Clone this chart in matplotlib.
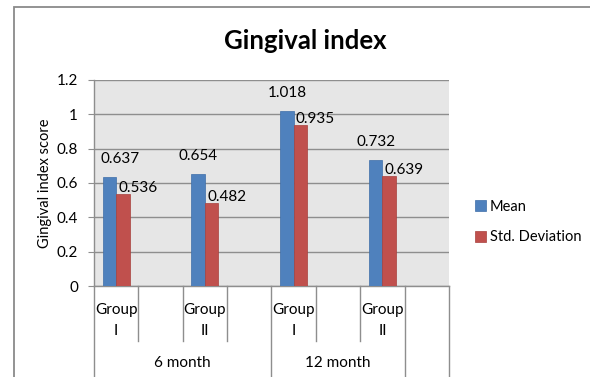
import matplotlib.pyplot as plt
from matplotlib.patches import Patch, Rectangle
from matplotlib.transforms import blended_transform_factory

# categories along the x axis (blank slots are empty categories)
categories = ["Group\nI", "", "Group\nII", "", "Group\nI", "", "Group\nII", ""]
mean_vals = [0.637, None, 0.654, None, 1.018, None, 0.732, None]
std_vals = [0.536, None, 0.482, None, 0.935, None, 0.639, None]

# outer category level and how many inner categories each spans
periods = ["6 month", "12 month", ""]
period_sizes = [4, 3, 1]

BLUE = "#4F81BD"
RED = "#C0504D"
GRID = "#8E8E8E"
FONT = "Lato"
FS = 11

W, H = 590, 377
fig = plt.figure(figsize=(W / 100, H / 100), dpi=100)
fig.patch.set_facecolor("white")

# chart frame (runs past the right and bottom edges)
fig.patches.append(Rectangle((14 / W, -0.05), 1.0, 1 - 7 / H + 0.05,
                             transform=fig.transFigure, fill=False,
                             edgecolor="#8A8A8A", linewidth=1.3))

ax = fig.add_axes([94 / W, 1 - 286 / H, (449 - 94) / W, 206 / H])
ax.set_facecolor("#E6E6E6")

n = len(categories)
x = list(range(n))
bw = 0.305
xs_mean = [i - bw / 2 for i, v in zip(x, mean_vals) if v is not None]
ys_mean = [v for v in mean_vals if v is not None]
xs_std = [i + bw / 2 for i, v in zip(x, std_vals) if v is not None]
ys_std = [v for v in std_vals if v is not None]

ax.bar(xs_mean, ys_mean, width=bw, color=BLUE, edgecolor="#3E6EA8", linewidth=0.5, zorder=3)
ax.bar(xs_std, ys_std, width=bw, color=RED, edgecolor="#A8403D", linewidth=0.5, zorder=3)

# value labels
mean_dx = [11, 0, 0, 0]
for xi, v, dx in zip(xs_mean, ys_mean, mean_dx):
    ax.annotate(f"{v:.3f}", (xi, v), xytext=(dx, 11), textcoords="offset pixels",
                ha="center", va="bottom", fontsize=FS, family=FONT, zorder=4)
for xi, v in zip(xs_std, ys_std):
    ax.annotate(f"{v:.3f}", (xi, v), xytext=(15, -1), textcoords="offset pixels",
                ha="center", va="bottom", fontsize=FS, family=FONT, zorder=4)

ax.set_xlim(-0.5, n - 0.5)
ax.set_ylim(0, 1.2)
yt = [0, 0.2, 0.4, 0.6, 0.8, 1.0, 1.2]
ax.set_yticks(yt)
ax.set_yticklabels([f"{t:g}" for t in yt], family=FONT, fontsize=FS)
ax.tick_params(axis="y", length=4.5, color=GRID, pad=7)
ax.set_xticks([])
ax.yaxis.grid(True, color=GRID, linewidth=1.0, zorder=0)
ax.set_axisbelow(True)
for side in ("top", "right"):
    ax.spines[side].set_visible(False)
for side in ("left", "bottom"):
    ax.spines[side].set_color(GRID)
    ax.spines[side].set_linewidth(1.0)

ax.set_ylabel("Gingival index score", family=FONT, fontsize=10.5, labelpad=3)

# two-level category table below the axis
tr = blended_transform_factory(ax.transData, ax.transAxes)
row1 = -55 / 206
bottom = -100 / 206
bounds = [-0.5]
for s in period_sizes:
    bounds.append(bounds[-1] + s)
for b in range(n + 1):
    edge = b - 0.5
    y1 = bottom if edge in bounds else row1
    ax.plot([edge, edge], [0, y1], transform=tr, color=GRID, linewidth=1.0, clip_on=False)

for i, lab in enumerate(categories):
    if not lab:
        continue
    top, bot = lab.split("\n")
    ax.text(i, -24 / 206, top, transform=tr, ha="center", va="center",
            family=FONT, fontsize=FS)
    ax.text(i, -45 / 206, bot, transform=tr, ha="center", va="center",
            family=FONT, fontsize=FS)

for lab, lo, hi in zip(periods, bounds[:-1], bounds[1:]):
    ax.text((lo + hi) / 2, -77 / 206, lab, transform=tr, ha="center", va="center",
            family=FONT, fontsize=FS)

fig.text(305 / W, 1 - 41 / H, "Gingival index", ha="center", va="center",
         family=FONT, fontweight="bold", fontsize=18.5)

handles = [Patch(facecolor=BLUE, edgecolor="#3E6EA8", linewidth=0.5),
           Patch(facecolor=RED, edgecolor="#A8403D", linewidth=0.5)]
fig.legend(handles, ["Mean", "Std. Deviation"], loc="center left",
           bbox_to_anchor=(475 / W, 1 - 222 / H), frameon=False,
           borderpad=0, borderaxespad=0,
           handlelength=0.75, handleheight=0.75, handletextpad=0.25,
           labelspacing=1.15, prop={"family": FONT, "size": 10.5})

fig.savefig("out.png", dpi=100)
